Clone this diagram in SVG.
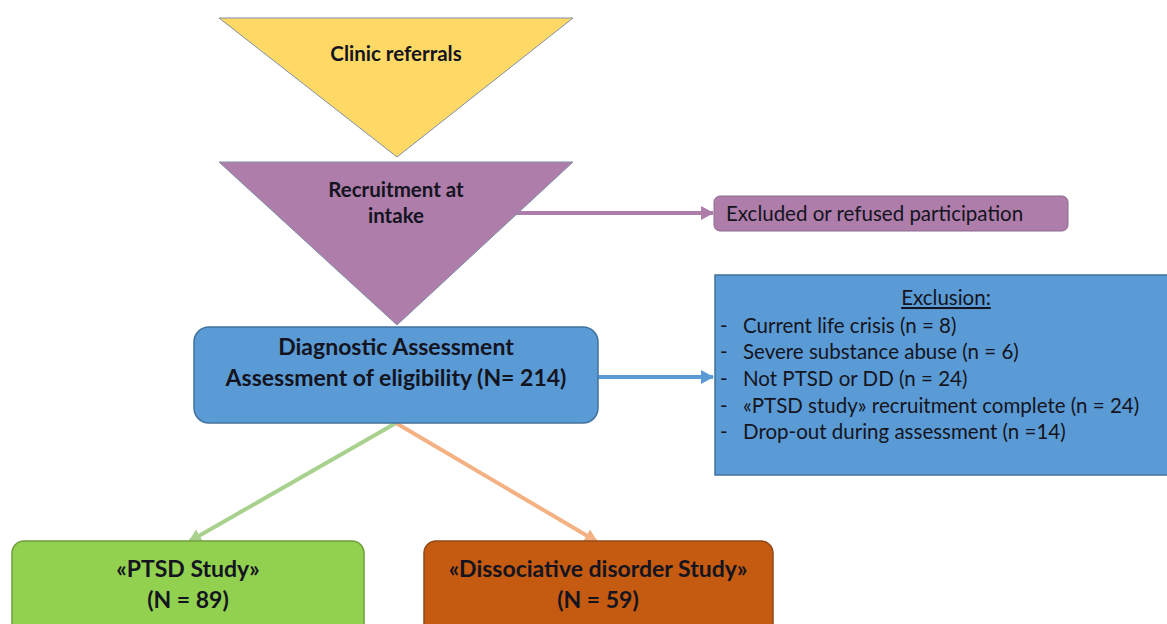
<svg xmlns="http://www.w3.org/2000/svg" width="1167" height="624" viewBox="0 0 1167 624">
<style>
.t{font-family:Lato,"Open Sans","Liberation Sans",sans-serif;fill:#141420}
.b{font-weight:bold}
.c{text-anchor:middle}
.tri{stroke:#7f8fa6;stroke-width:1}
</style>
<defs>
<marker id="mp" markerUnits="userSpaceOnUse" markerWidth="14" markerHeight="14" refX="12" refY="7" orient="auto"><path d="M0,0 L13,7 L0,14 Z" fill="#ae7daa"/></marker>
<marker id="mb" markerUnits="userSpaceOnUse" markerWidth="14" markerHeight="14" refX="12" refY="7" orient="auto"><path d="M0,0 L13,7 L0,14 Z" fill="#5b9bd5"/></marker>
<marker id="mg" markerUnits="userSpaceOnUse" markerWidth="14" markerHeight="14" refX="11" refY="7" orient="auto"><path d="M0,0 L13,7 L0,14 Z" fill="#a9d18e"/></marker>
<marker id="mo" markerUnits="userSpaceOnUse" markerWidth="14" markerHeight="14" refX="11" refY="7" orient="auto"><path d="M0,0 L13,7 L0,14 Z" fill="#f4b183"/></marker>
</defs>
<rect width="1167" height="624" fill="#ffffff"/>
<g id="connectors" fill="none">
<line x1="514" y1="213" x2="713" y2="213" stroke="#ae7daa" stroke-width="4" marker-end="url(#mp)"/>
<line x1="598" y1="377" x2="713" y2="377" stroke="#5b9bd5" stroke-width="4" marker-end="url(#mb)"/>
<line x1="396" y1="423" x2="190" y2="541" stroke="#a9d18e" stroke-width="4" marker-end="url(#mg)"/>
<line x1="396" y1="423" x2="596" y2="541" stroke="#f4b183" stroke-width="4" marker-end="url(#mo)"/>
</g>
<g id="clinic">
<polygon class="tri" points="219,18 573,18 397,157" fill="#ffd966"/>
<text class="t b c" x="396" y="61" font-size="20.5">Clinic referrals</text>
</g>
<g id="recruitment">
<polygon class="tri" points="219,162 573,162 397,325" fill="#ae7daa"/>
<text class="t b c" x="396" y="197" font-size="20.5">Recruitment at</text>
<text class="t b c" x="396" y="223" font-size="20.5">intake</text>
</g>
<g id="excluded">
<rect x="714" y="196" width="354" height="35" rx="6" fill="#ae7daa" stroke="#8a6a8f" stroke-width="1"/>
<text class="t" x="726" y="221" font-size="20.5">Excluded or refused participation</text>
</g>
<g id="diagnostic">
<rect x="194" y="327" width="404" height="96" rx="15" fill="#5b9bd5" stroke="#41719c" stroke-width="1.5"/>
<text class="t b c" x="396" y="355" font-size="23">Diagnostic Assessment</text>
<text class="t b c" x="396" y="386" font-size="23">Assessment of eligibility (N= 214)</text>
</g>
<g id="exclusion">
<rect x="715" y="275" width="460" height="200" fill="#5b9bd5" stroke="#41719c" stroke-width="1.5"/>
<text class="t c" x="946" y="305" font-size="20.5" text-decoration="underline">Exclusion:</text>
<text class="t" font-size="20.5">
<tspan x="720" y="333">-</tspan><tspan x="743" y="333">Current life crisis (n = 8)</tspan>
<tspan x="720" y="359">-</tspan><tspan x="743" y="359">Severe substance abuse (n = 6)</tspan>
<tspan x="720" y="386">-</tspan><tspan x="743" y="386">Not PTSD or DD (n = 24)</tspan>
<tspan x="720" y="413">-</tspan><tspan x="743" y="413">«PTSD study» recruitment complete (n = 24)</tspan>
<tspan x="720" y="439">-</tspan><tspan x="743" y="439">Drop-out during assessment (n =14)</tspan>
</text>
</g>
<g id="ptsd">
<rect x="12" y="541" width="352" height="100" rx="12" fill="#92d050" stroke="#6e9e3c" stroke-width="1.5"/>
<text class="t b c" x="188" y="577" font-size="23">«PTSD Study»</text>
<text class="t b c" x="188" y="608" font-size="23">(N = 89)</text>
</g>
<g id="dd">
<rect x="424" y="541" width="349" height="100" rx="12" fill="#c55a11" stroke="#8f4a1c" stroke-width="1.5"/>
<text class="t b c" x="598" y="577" font-size="23">«Dissociative disorder Study»</text>
<text class="t b c" x="598" y="608" font-size="23">(N = 59)</text>
</g>
</svg>
